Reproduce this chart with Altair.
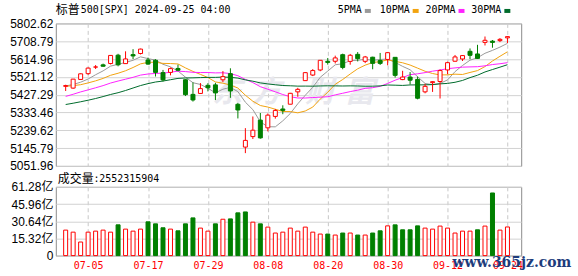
import json
import altair as alt
import pandas as pd

# ---------------- data ----------------
dates = ["07-01","07-02","07-03","07-05","07-08","07-09","07-10","07-11","07-12","07-15",
         "07-16","07-17","07-18","07-19","07-22","07-23","07-24","07-25","07-26","07-29",
         "07-30","07-31","08-01","08-02","08-05","08-06","08-07","08-08","08-09","08-12",
         "08-13","08-14","08-15","08-16","08-19","08-20","08-21","08-22","08-23","08-26",
         "08-27","08-28","08-29","08-30","09-03","09-04","09-05","09-06","09-09","09-10",
         "09-11","09-12","09-13","09-16","09-17","09-18","09-19","09-20","09-23","09-24"]

open_ = [5471.08,5461.84,5507.44,5537.91,5572.75,5584.24,5591.26,5635.21,5590.76,5638.16,
         5644.09,5610.07,5608.56,5543.37,5544.54,5565.30,5505.84,5428.70,5433.67,5476.55,
         5478.73,5505.59,5537.84,5376.63,5151.14,5206.42,5293.13,5252.57,5312.70,5351.88,
         5376.98,5442.02,5501.13,5530.50,5557.23,5602.88,5603.09,5637.77,5602.39,5639.66,
         5602.89,5624.51,5607.30,5612.74,5623.89,5506.68,5520.08,5507.33,5442.07,5490.51,
         5496.42,5557.48,5603.34,5615.21,5655.51,5641.68,5702.63,5709.07,5711.90,5726.52]

high = [5479.55,5509.69,5539.27,5570.33,5583.11,5590.75,5635.39,5642.45,5655.56,5666.94,
        5669.67,5622.49,5614.05,5557.50,5570.36,5585.34,5508.04,5491.59,5488.32,5487.74,
        5489.46,5551.51,5566.16,5383.89,5250.89,5312.34,5330.64,5328.03,5351.88,5371.20,
        5436.50,5463.22,5546.23,5561.98,5608.30,5620.51,5632.68,5643.22,5641.82,5651.62,
        5631.18,5627.03,5646.95,5651.37,5623.89,5552.99,5546.30,5522.47,5484.20,5497.91,
        5560.41,5600.71,5636.27,5636.05,5670.81,5689.75,5733.57,5715.14,5725.36,5735.32]

low = [5446.53,5458.43,5507.42,5531.63,5562.51,5574.57,5586.44,5576.53,5590.44,5614.75,
       5639.02,5584.81,5522.81,5497.04,5529.04,5550.90,5419.98,5390.95,5430.70,5444.44,
       5398.72,5493.75,5410.42,5302.03,5119.26,5193.56,5195.54,5233.85,5300.87,5324.37,
       5376.98,5415.98,5501.13,5525.17,5550.74,5585.50,5591.57,5560.95,5585.16,5602.34,
       5593.48,5560.95,5583.71,5581.79,5517.38,5503.66,5480.85,5402.62,5434.49,5441.72,
       5406.96,5535.50,5601.65,5604.53,5614.05,5615.08,5686.42,5674.49,5704.22,5698.99]

close = [5475.09,5509.01,5537.02,5567.19,5572.85,5576.98,5633.91,5584.54,5615.35,5631.22,
         5667.20,5588.27,5544.59,5505.00,5564.41,5555.74,5427.13,5399.22,5459.10,5463.54,
         5436.44,5522.30,5446.68,5346.56,5186.33,5240.03,5199.50,5319.31,5344.16,5344.39,
         5434.43,5455.21,5543.22,5554.25,5608.25,5597.12,5620.85,5570.64,5634.61,5616.84,
         5625.80,5592.18,5591.96,5648.40,5528.93,5520.07,5503.41,5408.42,5471.05,5495.52,
         5554.13,5595.76,5626.02,5633.09,5634.58,5618.26,5713.64,5702.55,5718.57,5732.93]

close_before_first = 5460.48

# volume in 亿 (1e8)
volume_yi = [22.7,20.9,12.1,20.9,21.8,22.7,20.9,27.4,23.6,21.8,
             23.6,30.1,28.3,24.8,23.6,22.1,28.3,33.6,24.5,21.8,
             28.3,32.4,32.7,38.1,38.9,29.8,28.3,25.4,20.1,20.9,
             24.5,21.8,25.4,20.9,19.2,19.2,18.3,20.1,20.1,18.3,
             18.3,20.1,22.1,26.5,27.4,23.0,23.0,26.5,24.5,23.6,
             26.3,24.5,20.1,21.8,21.8,23.0,26.3,55.8,22.7,25.52]

ma5 = [5473.0,5481.0,5492.8,5509.6,5532.2,5552.6,5577.6,5587.2,5596.8,5608.4,
       5626.4,5617.2,5609.2,5587.2,5573.8,5551.6,5519.4,5490.2,5481.0,5461.0,
       5437.0,5456.0,5465.6,5443.2,5387.6,5348.4,5284.0,5258.4,5257.8,5289.4,
       5328.2,5379.2,5424.0,5466.0,5518.8,5551.4,5584.6,5590.2,5606.4,5608.2,
       5614.0,5608.2,5612.4,5615.0,5597.4,5576.2,5558.4,5521.6,5486.2,5479.6,
       5486.4,5505.0,5548.6,5581.0,5608.8,5621.6,5645.2,5660.6,5677.8,5697.4]

ma10 = [5471.1,5474.7,5479.7,5489.1,5499.9,5512.8,5529.3,5540.0,5553.2,5570.3,
        5589.5,5597.4,5598.2,5592.0,5591.1,5589.0,5568.3,5549.7,5534.1,5517.4,
        5494.3,5487.7,5477.9,5462.1,5424.3,5392.7,5370.0,5362.0,5350.5,5338.5,
        5338.3,5331.6,5341.2,5361.9,5404.1,5439.8,5481.9,5507.1,5536.2,5563.5,
        5582.7,5596.4,5601.3,5610.7,5602.8,5595.1,5583.3,5567.0,5550.6,5538.5,
        5531.3,5531.7,5535.1,5533.6,5544.2,5554.0,5575.1,5604.6,5629.4,5653.1]

ma20 = [5418.1,5429.4,5441.7,5452.4,5463.4,5474.9,5488.5,5499.0,5508.7,5518.6,
        5530.3,5536.1,5539.0,5540.6,5545.5,5550.9,5548.8,5544.9,5543.7,5543.9,
        5541.9,5542.6,5538.1,5527.1,5507.7,5490.9,5469.2,5455.9,5442.3,5428.0,
        5416.3,5409.7,5409.6,5412.0,5414.2,5416.3,5426.0,5434.6,5443.4,5451.0,
        5460.5,5464.0,5471.3,5486.3,5503.5,5517.5,5532.6,5537.1,5543.4,5551.0,
        5557.0,5564.1,5568.2,5572.2,5573.5,5574.6,5579.2,5585.8,5590.0,5595.8]

ma30 = [5375.3,5382.2,5389.8,5398.0,5406.9,5417.2,5428.2,5437.5,5449.1,5462.3,
        5475.2,5485.4,5493.9,5498.9,5505.9,5512.9,5515.1,5515.9,5517.2,5518.2,
        5518.3,5519.9,5518.6,5514.4,5505.1,5498.2,5489.2,5483.9,5479.3,5475.4,
        5474.0,5472.2,5472.4,5472.0,5473.2,5473.8,5473.4,5472.9,5473.6,5473.1,
        5471.8,5471.9,5473.5,5478.2,5477.1,5475.9,5478.4,5478.7,5479.1,5480.2,
        5484.1,5486.6,5492.5,5502.1,5517.0,5529.6,5546.8,5559.6,5572.1,5585.0]

price_ticks = [5051.96, 5145.79, 5239.62, 5333.46, 5427.29, 5521.12, 5614.96, 5708.79, 5802.62]
volume_ticks = [0, 15.32, 30.64, 45.96, 61.28]
date_ticks = ["07-05", "07-17", "07-29", "08-08", "08-20", "08-30", "09-12", "09-24"]
ma_names = ["5PMA", "10PMA", "20PMA", "30PMA"]
ma_colors = ["#9a9a9a", "#f2a30f", "#ff22ff", "#006b2c"]

title_cjk = "标普"
title_rest = "500[SPX] 2024-09-25 04:00"
vol_cjk = "成交量"
vol_rest = ":2552315904"
watermark_chars = ["东", "方", "财", "富"]
watermark_site = "www.365jz.com"

RED = "#ff0000"
GREEN = "#008000"
MONO = "DejaVu Sans Mono"
CJK = "Noto Sans CJK SC"

# ---------------- tables ----------------
n = len(dates)
prevs = [close_before_first] + close[:-1]
df = pd.DataFrame({
    "i": list(range(n)), "date": dates, "open": open_, "high": high,
    "low": low, "close": close, "vol": volume_yi,
})
df["candle"] = ["up" if c >= o else "down" for o, c in zip(open_, close)]
df["volc"] = ["up" if c >= p else "down" for p, c in zip(prevs, close)]

ma_rows = []
for name, series in zip(ma_names, [ma5, ma10, ma20, ma30]):
    for k, v in enumerate(series):
        ma_rows.append({"i": k, "value": v, "series": name})
ma_df = pd.DataFrame(ma_rows)

tick_idx = [dates.index(d) for d in date_ticks]
label_expr = json.dumps(dates) + "[datum.value]"

# layout (pixels): window 578x276, plot left 55, right 522
W, H_TOP, H_BOT, GAP = 467, 143, 69, 21
PAD_L, PAD_T, PAD_R, PAD_B = 55, 22, 56, 21

x_scale = alt.Scale(domain=[-0.65, 60.17], nice=False, zero=False)
p_scale = alt.Scale(domain=[price_ticks[0], price_ticks[-1]], nice=False, zero=False)
v_scale = alt.Scale(domain=[0, volume_ticks[-1]], nice=False)

x_axis_top = alt.Axis(values=tick_idx, labels=False, ticks=False, domain=False, grid=True,
                      gridDash=[4, 3], gridColor="#c8c8c8", title=None)
x_axis_bot = alt.Axis(values=tick_idx, labelExpr=label_expr, labelColor=RED, labelFont=MONO,
                      labelFontSize=10, labelPadding=5, ticks=False, domain=False, grid=True,
                      gridDash=[4, 3], gridColor="#c8c8c8", title=None, labelFlush=False,
                      labelOverlap=False, labelBound=False)
y_axis_p = alt.Axis(values=price_ticks, format=".2f", grid=True, gridColor="#d2d2d2",
                    ticks=False, domain=False, title=None, labelPadding=3,
                    labelFont="Liberation Sans", labelFontSize=12, labelColor="#000000",
                    labelOverlap=False, labelFlush=False)
y_axis_v = alt.Axis(values=volume_ticks,
                    labelExpr="datum.value == 0 ? '0' : format(datum.value, '.2f') + '亿'",
                    grid=True, gridColor="#d2d2d2", ticks=False, domain=False, title=None,
                    labelPadding=3, labelFont="Liberation Sans, Noto Sans CJK SC",
                    labelFontSize=12, labelColor="#000000", labelOverlap=False, labelFlush=False)

X_top = alt.X("i:Q", scale=x_scale, axis=x_axis_top)
X_bot = alt.X("i:Q", scale=x_scale, axis=x_axis_bot)


def text_layer(txt, x, y, font, size, color="#000000", **kw):
    return alt.Chart(pd.DataFrame({"t": [txt]})).mark_text(
        align=kw.pop("align", "left"), baseline="middle", font=font, fontSize=size,
        color=color, **kw
    ).encode(x=alt.value(x), y=alt.value(y), text="t:N")


def anchor(x1, x2, y1, y2):
    # invisible frame that fixes the overall page extent
    return alt.Chart(pd.DataFrame({"a": [0]})).mark_rect(opacity=0).encode(
        x=alt.value(x1), x2=alt.value(x2), y=alt.value(y1), y2=alt.value(y2))


# ---------------- price panel ----------------
base = alt.Chart(df)
wm_x = [172, 211, 265, 305]
watermark = [text_layer(ch, xx, 70, CJK, 30, "#e8e8ee", align="center",
                        fontStyle="italic", fontWeight="bold")
             for ch, xx in zip(watermark_chars, wm_x)]

ma_lines = alt.Chart(ma_df).mark_line(strokeWidth=1).encode(
    x=X_top, y=alt.Y("value:Q", scale=p_scale, axis=y_axis_p),
    color=alt.Color("series:N", scale=alt.Scale(domain=ma_names, range=ma_colors), legend=None),
    detail="series:N")

wick_up = base.transform_filter("datum.candle == 'up'").mark_rule(color=RED, strokeWidth=1).encode(
    x=X_top, y=alt.Y("low:Q", scale=p_scale, axis=y_axis_p), y2="high:Q")
wick_dn = base.transform_filter("datum.candle == 'down'").mark_rule(color=GREEN, strokeWidth=1).encode(
    x=X_top, y=alt.Y("low:Q", scale=p_scale, axis=y_axis_p), y2="high:Q")
body_up = base.transform_filter("datum.candle == 'up'").mark_bar(
    size=4, fill="#ffffff", stroke=RED, strokeWidth=1).encode(
    x=X_top, y=alt.Y("open:Q", scale=p_scale, axis=y_axis_p), y2="close:Q")
body_dn = base.transform_filter("datum.candle == 'down'").mark_bar(
    size=4, fill=GREEN, stroke=GREEN, strokeWidth=1).encode(
    x=X_top, y=alt.Y("open:Q", scale=p_scale, axis=y_axis_p), y2="close:Q")

title_layers = [
    text_layer(title_cjk, 0, -13.5, CJK, 12),
    text_layer(title_rest, 25, -13.5, MONO, 10),
]
legend_x = [283, 325, 371, 417]
legend_layers = []
for name, col, lx in zip(ma_names, ma_colors, legend_x):
    legend_layers.append(text_layer(name, lx, -13, MONO, 10))
    dx = lx + len(name) * 6.02 + 3
    legend_layers.append(
        alt.Chart(pd.DataFrame({"t": [name]})).mark_rect(color=col).encode(
            x=alt.value(dx), x2=alt.value(dx + 6), y=alt.value(-14.5), y2=alt.value(-10.5)))

top = alt.layer(anchor(-PAD_L, W + PAD_R, -PAD_T, 0),
                *watermark, ma_lines, wick_up, wick_dn, body_up, body_dn,
                *title_layers, *legend_layers).properties(width=W, height=H_TOP)

# ---------------- volume panel ----------------
vbase = alt.Chart(df)
vol_up = vbase.transform_filter("datum.volc == 'up'").mark_bar(
    size=4, fill="#ffffff", stroke=RED, strokeWidth=1).encode(
    x=X_bot, y=alt.Y("vol:Q", scale=v_scale, axis=y_axis_v))
vol_dn = vbase.transform_filter("datum.volc == 'down'").mark_bar(
    size=4, fill=GREEN, stroke=GREEN, strokeWidth=1).encode(
    x=X_bot, y=alt.Y("vol:Q", scale=v_scale, axis=y_axis_v))
vol_label = [
    text_layer(vol_cjk, 2, -8, CJK, 12),
    text_layer(vol_rest, 37.7, -8, MONO, 10),
]
site = text_layer(watermark_site, 398, 76.5, "DejaVu Serif", 14, "#1d3c7c", fontWeight="bold")

bottom = alt.layer(anchor(-PAD_L, W + PAD_R, H_BOT, H_BOT + PAD_B),
                   vol_up, vol_dn, *vol_label, site).properties(width=W, height=H_BOT)

chart = alt.vconcat(top, bottom, spacing=GAP, bounds="flush").properties(
    padding={"left": 0, "top": 0, "right": 0, "bottom": 0},
    autosize=alt.AutoSizeParams(type="pad"),
    background="#ffffff",
).configure_view(stroke="#8c8c8c", strokeWidth=1)

chart.save("out.html", embed_options={"renderer": "svg", "actions": False})
